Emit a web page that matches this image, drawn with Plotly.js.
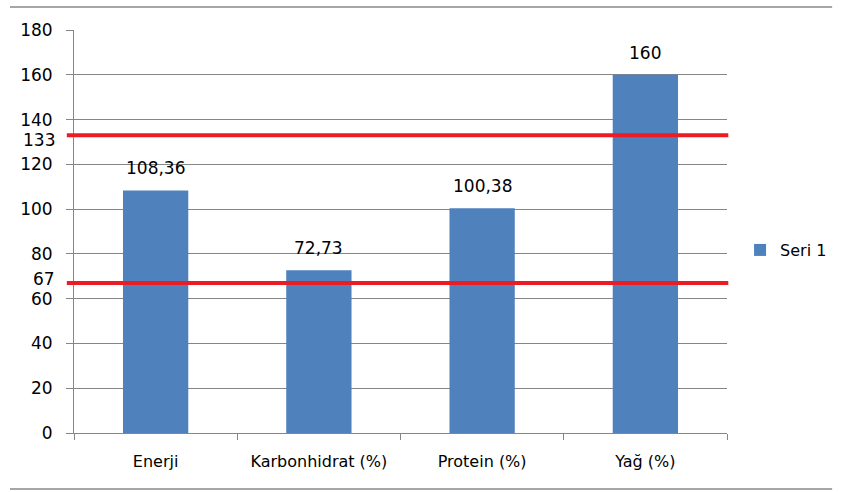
<!DOCTYPE html>
<html>
<head>
<meta charset="utf-8">
<script src="https://cdn.plot.ly/plotly-3.0.1.min.js"></script>
<style>html,body{margin:0;padding:0;background:#fff;}#chart{width:841px;height:492px;}</style>
</head>
<body>
<div id="chart"></div>
<script>
const categories = ["Enerji", "Karbonhidrat (%)", "Protein (%)", "Yağ (%)"];
const values = [108.36, 72.73, 100.38, 160];
const seriesName = "Seri 1";
const refLines = [133, 67];
const refLabelShift = [-5, 4];
const yTickVals = [0, 20, 40, 60, 80, 100, 120, 140, 160, 180];

const FONT = "DejaVu Sans, Verdana, sans-serif";
const fmt = v => String(v).replace(".", ",");

const trace = {
  type: "bar",
  x: categories,
  y: values,
  name: seriesName,
  marker: {color: "#4F81BD"},
  width: 0.4,
  showlegend: true,
  hoverinfo: "x+y"
};

const annotations = categories.map((c, i) => ({
  x: c, y: values[i], xref: "x", yref: "y",
  text: fmt(values[i]), showarrow: false,
  yanchor: "middle", yshift: 22,
  font: {family: FONT, size: 17, color: "#000"}
}));
refLines.forEach((v, i) => annotations.push({
  x: 0, y: v, xref: "paper", yref: "y",
  text: String(v), showarrow: false,
  xanchor: "right", yanchor: "middle", xshift: -17, yshift: refLabelShift[i],
  font: {family: FONT, size: 17, color: "#000"}
}));

const shapes = refLines.map(v => ({
  type: "line", xref: "paper", yref: "y",
  x0: -0.011, x1: 1.002, y0: v, y1: v,
  line: {color: "#EC1C24", width: 4}
}));
// frame lines top and bottom
shapes.push({type: "line", xref: "paper", yref: "paper", x0: -0.098, x1: 1.161, y0: 1.057, y1: 1.057, line: {color: "#A6A6A6", width: 2}});
shapes.push({type: "line", xref: "paper", yref: "paper", x0: -0.098, x1: 1.161, y0: -0.139, y1: -0.139, line: {color: "#A6A6A6", width: 2}});

const layout = {
  width: 841, height: 492,
  margin: {l: 74, r: 114, t: 30, b: 59, autoexpand: false},
  paper_bgcolor: "#fff", plot_bgcolor: "#fff",
  font: {family: FONT, size: 16, color: "#000"},
  bargap: 0.6,
  xaxis: {
    type: "category",
    tickson: "boundaries",
    ticks: "outside", ticklen: 6, tickcolor: "#868686", tickwidth: 1,
    showline: true, linecolor: "#868686", linewidth: 1,
    showgrid: false,
    ticklabelstandoff: 14,
    tickfont: {family: FONT, size: 16, color: "#000"},
    range: [-0.5, 3.5]
  },
  yaxis: {
    range: [0, 180],
    tickmode: "array", tickvals: yTickVals, ticktext: yTickVals.map(String),
    ticks: "outside", ticklen: 7, tickcolor: "#868686", tickwidth: 1,
    showline: true, linecolor: "#868686", linewidth: 1,
    showgrid: true, gridcolor: "#868686", gridwidth: 1,
    zeroline: false,
    ticklabelstandoff: 10,
    tickfont: {family: FONT, size: 17, color: "#000"}
  },
  legend: {
    x: 1.02, y: 0.454, xanchor: "left", yanchor: "middle",
    font: {family: FONT, size: 16, color: "#000"},
    bgcolor: "rgba(0,0,0,0)"
  },
  annotations: annotations,
  shapes: shapes
};

Plotly.newPlot("chart", [trace], layout, {displayModeBar: false, staticPlot: true});
</script>
</body>
</html>
